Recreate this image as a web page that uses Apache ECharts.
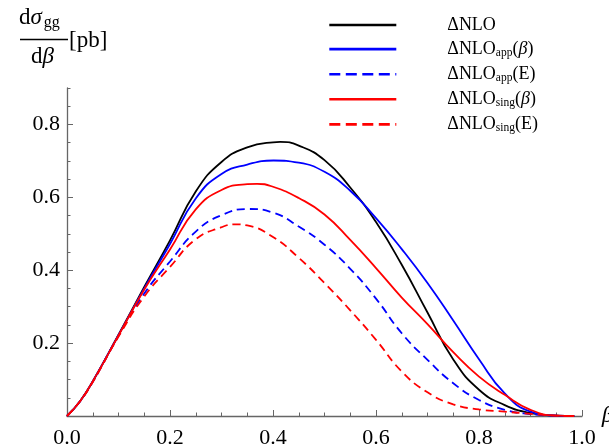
<!DOCTYPE html>
<html>
<head>
<meta charset="utf-8">
<script src="https://cdn.jsdelivr.net/npm/echarts@6/dist/echarts.min.js"></script>
<style>
html,body{margin:0;padding:0;background:#fff;}
#chart{width:609px;height:447px;}
</style>
</head>
<body>
<div id="chart"></div>
<script>
// ---- data ----
var betaValues = [0, 0.025, 0.05, 0.1, 0.15, 0.2, 0.25, 0.3, 0.35, 0.4, 0.45, 0.5, 0.55, 0.6, 0.65, 0.7, 0.75, 0.8, 0.85, 0.9, 0.95, 0.985];
var dNLO        = [0, 0.04, 0.095, 0.223, 0.354, 0.482, 0.616, 0.697, 0.737, 0.751, 0.742, 0.702, 0.627, 0.532, 0.415, 0.284, 0.155, 0.072, 0.030, 0.008, 0.001, 0];
var dNLOappBeta = [0, 0.04, 0.095, 0.222, 0.350, 0.472, 0.597, 0.664, 0.690, 0.701, 0.695, 0.670, 0.618, 0.543, 0.458, 0.365, 0.262, 0.156, 0.062, 0.012, 0.001, 0];
var dNLOappE    = [0, 0.04, 0.094, 0.220, 0.336, 0.424, 0.506, 0.551, 0.567, 0.558, 0.520, 0.470, 0.404, 0.322, 0.227, 0.154, 0.090, 0.044, 0.017, 0.005, 0.001, 0];
var dNLOsingBeta= [0, 0.04, 0.095, 0.221, 0.347, 0.457, 0.567, 0.620, 0.636, 0.629, 0.598, 0.553, 0.483, 0.406, 0.325, 0.252, 0.175, 0.108, 0.058, 0.017, 0.001, 0];
var dNLOsingE   = [0, 0.04, 0.093, 0.218, 0.328, 0.409, 0.485, 0.518, 0.523, 0.491, 0.434, 0.365, 0.290, 0.209, 0.122, 0.065, 0.032, 0.018, 0.012, 0.006, 0.001, 0];

// peak positions and heights
var peakBeta  = [0.414, 0.401, 0.353, 0.369, 0.327];
var peakValue = [0.752, 0.701, 0.568, 0.637, 0.526];

var xTicks = [0, 0.2, 0.4, 0.6, 0.8, 1.0];
var yMajorTicks = [0, 0.2, 0.4, 0.6, 0.8];
var yLabelTicks = [0.2, 0.4, 0.6, 0.8];

var seriesNames = ['NLO', 'appB', 'appE', 'singB', 'singE'];
var seriesData = [dNLO, dNLOappBeta, dNLOappE, dNLOsingBeta, dNLOsingE];
var seriesColors = ['#000000', '#0000ff', '#0000ff', '#ff0000', '#ff0000'];
var seriesDash = ['solid', 'solid', [8, 5], 'solid', [8, 5]];
var legendDash = ['solid', 'solid', [11, 5.5], 'solid', [11, 5.5]];

var legendRich = {
  NLO:   '{sp| }{m|ΔNLO}',
  appB:  '{sp| }{m|ΔNLO}{s|app}{m|(}{i|β}{m|)}',
  appE:  '{sp| }{m|ΔNLO}{s|app}{m|(E)}',
  singB: '{sp| }{m|ΔNLO}{s|sing}{m|(}{i|β}{m|)}',
  singE: '{sp| }{m|ΔNLO}{s|sing}{m|(E)}'
};

var serif = '"Liberation Serif", "DejaVu Serif", serif';
var axisGray = '#666666';

function buildPoints(k) {
  var arr = seriesData[k];
  var pts = [];
  betaValues.forEach(function (b, i) {
    if (Math.abs(b - peakBeta[k]) > 0.012) pts.push([b, arr[i]]);
  });
  pts.push([peakBeta[k], peakValue[k]]);
  pts.sort(function (a, b) { return a[0] - b[0]; });
  return pts;
}

var chart = echarts.init(document.getElementById('chart'), null, {renderer: 'canvas'});

var series = seriesNames.map(function (n, k) {
  return {
    name: n,
    type: 'line',
    xAxisIndex: 0,
    yAxisIndex: 0,
    data: buildPoints(k),
    smooth: 0.5,
    smoothConstraint: true,
    symbol: 'none',
    showSymbol: false,
    silent: true,
    animation: false,
    z: 3 + k,
    lineStyle: {color: seriesColors[k], width: 1.8, type: seriesDash[k]},
    itemStyle: {color: seriesColors[k]}
  };
});

var legendData = seriesNames.map(function (n, k) {
  return {name: n, itemStyle: {opacity: 0}, lineStyle: {color: seriesColors[k], width: 2.6, type: legendDash[k]}};
});

chart.setOption({
  animation: false,
  backgroundColor: '#ffffff',
  grid: {left: 67, right: 27, top: 88, bottom: 31, containLabel: false, outerBoundsMode: 'none'},
  legend: {
    orient: 'vertical',
    left: 323,
    top: 11,
    itemWidth: 67,
    itemHeight: 14,
    itemGap: 6.1,
    selectedMode: false,
    itemStyle: {opacity: 0},
    data: legendData,
    formatter: function (n) { return legendRich[n]; },
    textStyle: {
      color: '#000',
      fontFamily: serif,
      rich: {
        sp: {width: 46, fontSize: 18, lineHeight: 20},
        m: {fontSize: 18, fontFamily: serif, color: '#000', lineHeight: 20},
        i: {fontSize: 18, fontFamily: serif, fontStyle: 'italic', color: '#000', lineHeight: 20},
        s: {fontSize: 11.5, fontFamily: serif, color: '#000', lineHeight: 20, verticalAlign: 'bottom', padding: [6, 0, 0, 0]}
      }
    }
  },
  xAxis: {
    type: 'value',
    min: 0,
    max: 1,
    interval: 0.2,
    name: 'β',
    nameLocation: 'end',
    nameGap: 17,
    nameTextStyle: {fontFamily: serif, fontStyle: 'italic', fontSize: 24, color: '#000', padding: [22, 0, 0, 0]},
    axisLine: {show: true, onZero: false, lineStyle: {color: axisGray, width: 1.3}},
    axisTick: {show: true, inside: true, length: 6, lineStyle: {color: axisGray, width: 1}},
    minorTick: {show: true, splitNumber: 4, length: 3.5, lineStyle: {color: axisGray, width: 1}},
    splitLine: {show: false},
    minorSplitLine: {show: false},
    axisLabel: {
      show: true,
      margin: 11,
      fontFamily: serif,
      fontSize: 22,
      color: '#000',
      customValues: xTicks,
      formatter: function (v) { return v.toFixed(1); }
    }
  },
  yAxis: [
    {
      type: 'value',
      min: 0,
      max: 0.9,
      interval: 0.2,
      position: 'left',
      axisLine: {show: true, onZero: false, lineStyle: {color: axisGray, width: 1.3}},
      axisTick: {show: true, inside: true, length: 6, customValues: yMajorTicks, lineStyle: {color: axisGray, width: 1}},
      splitLine: {show: false},
      axisLabel: {
        show: true,
        margin: 7,
        fontFamily: serif,
        fontSize: 22,
        color: '#000',
        customValues: yLabelTicks,
        formatter: function (v) { return v.toFixed(1); }
      }
    },
    {
      type: 'value',
      min: 0,
      max: 0.9,
      interval: 0.05,
      position: 'left',
      axisLine: {show: false},
      axisTick: {show: true, inside: true, length: 3.5, lineStyle: {color: axisGray, width: 1}},
      splitLine: {show: false},
      axisLabel: {show: false}
    }
  ],
  graphic: [
    {
      type: 'text',
      left: 19,
      top: 6,
      silent: true,
      style: {
        text: '{d|d}{g|σ}{s|gg}',
        rich: {
          d: {fontFamily: serif, fontSize: 23, fill: '#000', lineHeight: 26},
          g: {fontFamily: serif, fontSize: 23, fontStyle: 'italic', fill: '#000', lineHeight: 26},
          s: {fontFamily: serif, fontSize: 16, fill: '#000', lineHeight: 26, verticalAlign: 'bottom', padding: [0, 0, 0, 2]}
        }
      }
    },
    {
      type: 'line',
      silent: true,
      shape: {x1: 20, y1: 39.5, x2: 68, y2: 39.5},
      style: {stroke: '#000', lineWidth: 1.3}
    },
    {
      type: 'text',
      left: 31,
      top: 45,
      silent: true,
      style: {
        text: '{d|d}{g|β}',
        rich: {
          d: {fontFamily: serif, fontSize: 23, fill: '#000', lineHeight: 26},
          g: {fontFamily: serif, fontSize: 23, fontStyle: 'italic', fill: '#000', lineHeight: 26}
        }
      }
    },
    {
      type: 'text',
      left: 69,
      top: 29,
      silent: true,
      style: {text: '[pb]', fontFamily: serif, fontSize: 23, fill: '#000'}
    }
  ],
  series: series
});
</script>
</body>
</html>
